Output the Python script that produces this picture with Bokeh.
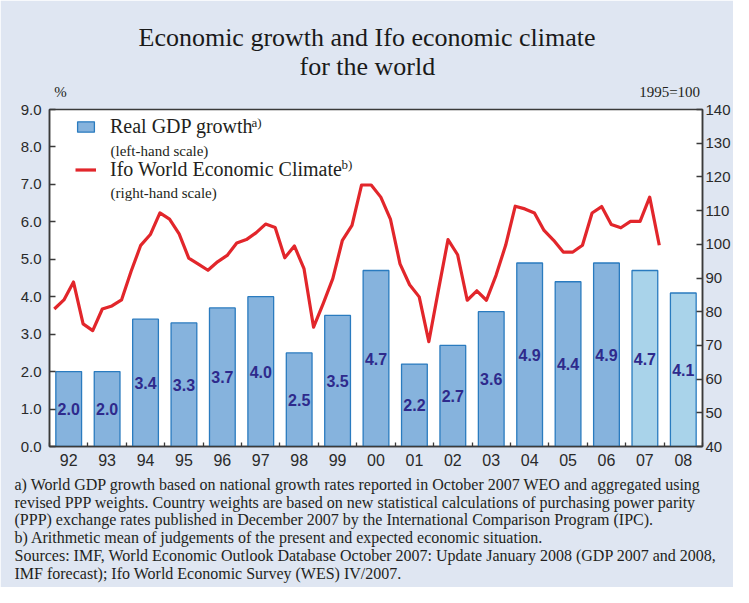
from bokeh.plotting import figure
from bokeh.models import (Range1d, LinearAxis, FixedTicker, Label, Legend, LegendItem,
                          ColumnDataSource, NumeralTickFormatter, Title)
from bokeh.embed import file_html
from bokeh.resources import INLINE
from bokeh.core.properties import value

# ---------------- data ----------------
years = ["92", "93", "94", "95", "96", "97", "98", "99", "00",
         "01", "02", "03", "04", "05", "06", "07", "08"]
gdp = [2.0, 2.0, 3.4, 3.3, 3.7, 4.0, 2.5, 3.5, 4.7,
       2.2, 2.7, 3.6, 4.9, 4.4, 4.9, 4.7, 4.1]
gdp_forecast = [False] * 15 + [True, True]

# Ifo World Economic Climate, quarterly 1992Q1 .. 2007Q4 (1995=100)
ifo = [80.8, 83.5, 88.8, 76.4,
       74.4, 80.8, 81.7, 83.5,
       92.0, 99.7, 102.9, 109.3,
       107.5, 103.1, 95.9, 94.1,
       92.3, 94.8, 96.7, 100.4,
       101.4, 103.4, 106.0, 105.0,
       96.0, 99.5, 92.8, 75.4,
       82.4, 89.8, 101.2, 105.6,
       117.6, 117.6, 114.0, 107.5,
       94.2, 88.0, 84.4, 71.1,
       86.4, 101.4, 96.9, 83.4,
       86.2, 83.4, 90.8, 99.7,
       111.3, 110.5, 109.3, 104.1,
       101.2, 97.7, 97.7, 99.7,
       109.3, 111.2, 105.9, 104.9,
       106.8, 106.8, 114.0, 99.7]

left_ticks = [0, 1, 2, 3, 4, 5, 6, 7, 8, 9]
right_ticks = [40, 50, 60, 70, 80, 90, 100, 110, 120, 130, 140]
unit_captions = ["%", "1995=100"]

title_lines = ["Economic growth and Ifo economic climate", "for the world"]
footnotes = [
    "a) World GDP growth based on national growth rates reported in October 2007 WEO and aggregated using",
    "revised PPP weights. Country weights are based on new statistical calculations of purchasing power parity",
    "(PPP) exchange rates published in December 2007 by the International Comparison Program (IPC).",
    "b) Arithmetic mean of judgements of the present and expected economic situation.",
    "Sources: IMF, World Economic Outlook Database October 2007: Update January 2008 (GDP 2007 and 2008,",
    "IMF forecast); Ifo World Economic Survey (WES) IV/2007.",
]

# ---------------- styling ----------------
PANEL = "#dfe6f2"
BAR_FILL = "#86b3dd"
BAR_FILL_FC = "#a9d3ea"
BAR_LINE = "#2a7bbf"
RED = "#e2262b"
LABEL_COL = "#2e2a8c"
AXIS_COL = "#3a3a3a"
TXT = "#231f20"
SERIF = "Liberation Serif"
SANS = "Liberation Sans"

W, H = 733, 587
n = len(years)
FX0, FY0 = 57.0, 455.0          # page position of the frame's bottom-left corner
XPX = 656.0 / n                 # px per category

p = figure(width=W, height=H, output_backend="svg", toolbar_location=None,
           title_location=None,
           x_range=Range1d(0, n), y_range=Range1d(0, 9),
           min_border_left=49, min_border_right=30, min_border_top=109, min_border_bottom=140)
p.extra_y_ranges = {"ifo": Range1d(40, 140)}
p.background_fill_color = "white"
p.border_fill_color = PANEL
p.outline_line_color = AXIS_COL
p.outline_line_width = 1.5
p.xgrid.visible = False
p.ygrid.visible = False

# ---------------- bars ----------------
src = ColumnDataSource(dict(
    x=[i + 0.5 for i in range(n)],
    top=gdp,
    mid=[g / 2 for g in gdp],
    lab=["%.1f" % g for g in gdp],
    fill=[BAR_FILL_FC if f else BAR_FILL for f in gdp_forecast],
))
bars = p.vbar(x="x", top="top", width=0.67, source=src, fill_color="fill",
              line_color=BAR_LINE, line_width=1.3)
p.text(x="x", y="mid", text="lab", source=src, text_font=value(SANS), text_font_style="bold",
       text_font_size="16px", text_color=LABEL_COL, text_align="center", text_baseline="middle")

# ---------------- line (quarterly) ----------------
qx = [i // 4 + (i % 4 + 0.5) / 4 for i in range(len(ifo))]
line = p.line(qx, ifo, y_range_name="ifo", line_color=RED, line_width=3.2, line_join="round")

# ---------------- axes ----------------
xa = p.xaxis[0]
xa.ticker = FixedTicker(ticks=[i + 0.5 for i in range(n)], minor_ticks=list(range(n + 1)))
xa.major_label_overrides = {i + 0.5: years[i] for i in range(n)}
xa.major_tick_in = 0
xa.major_tick_out = 0
xa.minor_tick_in = 4
xa.minor_tick_out = 0
xa.minor_tick_line_color = AXIS_COL
xa.minor_tick_line_width = 1.3
xa.major_label_standoff = 7
xa.major_label_text_font = SANS
xa.major_label_text_font_size = "16px"
xa.major_label_text_color = "#2a2a2a"
xa.axis_line_color = AXIS_COL
xa.axis_line_width = 1.5

ya = p.yaxis[0]
ya.ticker = FixedTicker(ticks=left_ticks)
ya.formatter = NumeralTickFormatter(format="0.0")

yr = LinearAxis(y_range_name="ifo", ticker=FixedTicker(ticks=right_ticks))
p.add_layout(yr, "right")

for ax, so in ((ya, 8), (yr, 3)):
    ax.major_tick_in = 6
    ax.major_tick_out = 0
    ax.minor_tick_line_color = None
    ax.major_tick_line_color = AXIS_COL
    ax.major_tick_line_width = 1.3
    ax.axis_line_color = AXIS_COL
    ax.axis_line_width = 1.5
    ax.major_label_standoff = so
    ax.major_label_text_font = SANS
    ax.major_label_text_font_size = "15px"
    ax.major_label_text_color = "#2a2a2a"

# unit captions above the frame ("%" over the left scale, "1995=100" over the right)
cap_pos = [(68 - FX0) / XPX, (680 - FX0) / XPX]
top_ax = LinearAxis(ticker=FixedTicker(ticks=cap_pos),
                    major_label_overrides={cap_pos[0]: unit_captions[0], cap_pos[1]: unit_captions[1]},
                    axis_line_color=None, major_tick_line_color=None, minor_tick_line_color=None,
                    major_label_standoff=4, major_label_text_font=SERIF,
                    major_label_text_font_size="15px", major_label_text_color=TXT)
p.add_layout(top_ax, "above")

# title (two rows, outermost added last); left-aligned with offsets that centre it on the panel
p.add_layout(Title(text=title_lines[1], align="left", text_font=SERIF, text_font_size="26px",
                   text_font_style="normal", text_color="#1a1a1a", standoff=-1,
                   offset=250), "above")
p.add_layout(Title(text=title_lines[0], align="left", text_font=SERIF, text_font_size="26px",
                   text_font_style="normal", text_color="#1a1a1a", standoff=-2,
                   offset=89), "above")

# footnotes below the year labels (one multi-line block)
p.add_layout(Title(text="\n".join(footnotes), align="left", offset=22 - FX0, text_font=SERIF,
                   text_font_size="16px", text_font_style="normal", text_color=TXT,
                   text_line_height=1.05, standoff=11), "below")

# ---------------- legend ----------------
legend = Legend(items=[LegendItem(label="Real GDP growth", renderers=[bars]),
                       LegendItem(label="Ifo World Economic Climate", renderers=[line])],
                location=(26, 265), orientation="vertical",
                label_text_font=SERIF, label_text_font_size="20px", label_text_color=TXT,
                glyph_width=21, glyph_height=13, label_standoff=14, spacing=20,
                padding=0, margin=0, border_line_color=None, background_fill_alpha=0)
p.add_layout(legend)


def put(text, px, py, size):
    p.add_layout(Label(x=px - FX0, y=FY0 - py, x_units="screen", y_units="screen",
                       text=text, text_font=SERIF, text_font_size=size,
                       text_align="left", text_baseline="alphabetic", text_color=TXT))


put("a)", 259, 131, "13px")
put("b)", 349, 173, "13px")
put("(left-hand scale)", 118, 159, "15px")
put("(right-hand scale)", 118, 201, "15px")

open("out.html", "w").write(file_html(p, INLINE))
